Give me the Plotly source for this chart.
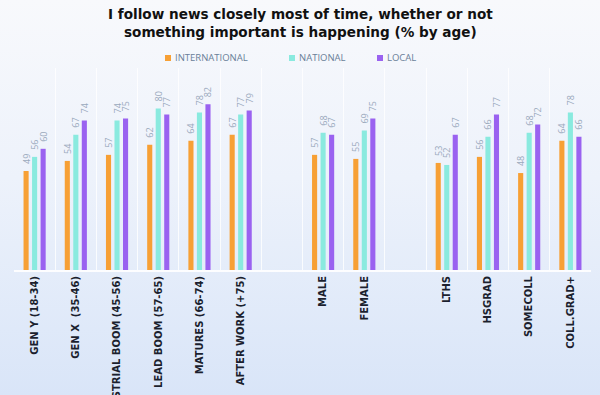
import base64
import plotly.graph_objects as go

categories = ["GEN Y (18-34)", "GEN X  (35-46)", "INDUSTRIAL BOOM (45-56)", "LEAD BOOM (57-65)",
              "MATURES (66-74)", "AFTER WORK (+75)", " ", "MALE", "FEMALE", "  ",
              "LTHS", "HSGRAD", "SOMECOLL", "COLL.GRAD+"]
international = [49, 54, 57, 62, 64, 67, None, 57, 55, None, 53, 56, 48, 64]
national = [56, 67, 74, 80, 78, 77, None, 68, 69, None, 52, 66, 68, 78]
local = [60, 74, 75, 77, 82, 79, None, 67, 75, None, 67, 77, 72, 66]
series_names = ["INTERNATIONAL", "NATIONAL", "LOCAL"]
series_colors = ["#f7a035", "#8aeadf", "#9a62f0"]
title_text = ("I follow news closely most of time, whether or not<br>"
              "something important is happening (% by age)")

W, H = 600, 395
ML, MR, MT, MB = 14, 9, 68, 125
pw, ph = W - ML - MR, H - MT - MB

fig = go.Figure()
for name, vals, col in zip(series_names, [international, national, local], series_colors):
    fig.add_trace(go.Bar(
        x=categories, y=vals, name=name, marker=dict(color=col, line=dict(width=0)),
        text=[("" if v is None else "\u00a0\u00a0\u00a0" + str(v)) for v in vals],
        textposition="outside", textangle=-90, cliponaxis=False, constraintext="none",
        textfont=dict(family="Open Sans", size=9, color="#9aa9bc"),
        showlegend=False, hoverinfo="skip",
    ))

# gradient background via svg image
svg = ('<svg xmlns="http://www.w3.org/2000/svg" width="600" height="395">'
       '<defs><linearGradient id="g" x1="0" y1="0" x2="0" y2="1">'
       '<stop offset="0" stop-color="#f8f9fc"/><stop offset="0.45" stop-color="#edf2fb"/>'
       '<stop offset="1" stop-color="#d9e5f8"/></linearGradient></defs>'
       '<rect width="600" height="395" fill="url(#g)"/></svg>')
src = "data:image/svg+xml;base64," + base64.b64encode(svg.encode()).decode()
fig.add_layout_image(dict(source=src, xref="paper", yref="paper",
                          x=-ML / pw, y=1 + MT / ph, sizex=W / pw, sizey=H / ph,
                          xanchor="left", yanchor="top", sizing="stretch", layer="below"))


def px_x(x):
    return (x - ML) / pw


def px_y(y):
    return (H - MB - y) / ph


# legend (manual)
leg_x = [165, 289, 377]
shapes = []
annotations = []
for name, col, lx in zip(series_names, series_colors, leg_x):
    shapes.append(dict(type="rect", xref="paper", yref="paper",
                       x0=px_x(lx), x1=px_x(lx + 6), y0=px_y(61), y1=px_y(55),
                       fillcolor=col, line=dict(width=0)))
    annotations.append(dict(text=name, xref="paper", yref="paper",
                            x=px_x(lx + 8), y=px_y(58),
                            xanchor="left", yanchor="middle", showarrow=False,
                            font=dict(family="Open Sans", size=9.5, color="#6a7f98")))

annotations.append(dict(text=title_text, xref="paper", yref="paper", x=px_x(300), y=px_y(23),
                        xanchor="center", yanchor="middle", showarrow=False, align="center",
                        font=dict(family="DejaVu Sans", size=13.6, color="#111111", weight="bold")))

fig.update_layout(
    width=W, height=H,
    margin=dict(l=ML, r=MR, t=MT, b=MB, autoexpand=False),
    paper_bgcolor="#eef3fb", plot_bgcolor="rgba(0,0,0,0)",
    barmode="group", bargap=0.38, bargroupgap=0.4,
    xaxis=dict(type="category", categoryarray=categories, categoryorder="array",
               tickson="boundaries", showgrid=True, gridcolor="rgba(255,255,255,0.8)", gridwidth=1,
               tickangle=-90, automargin=False, ticks="", showline=True, linecolor="rgba(255,255,255,0.9)",
               linewidth=2,
               tickfont=dict(family="DejaVu Sans", size=10, color="#1b1f2e", weight="bold")),
    yaxis=dict(range=[0, 100], visible=False, showgrid=False, zeroline=False),
    shapes=shapes, annotations=annotations,
)
fig.write_html("out.html", config={"displayModeBar": False},
               post_script="document.body.style.margin='0';")
